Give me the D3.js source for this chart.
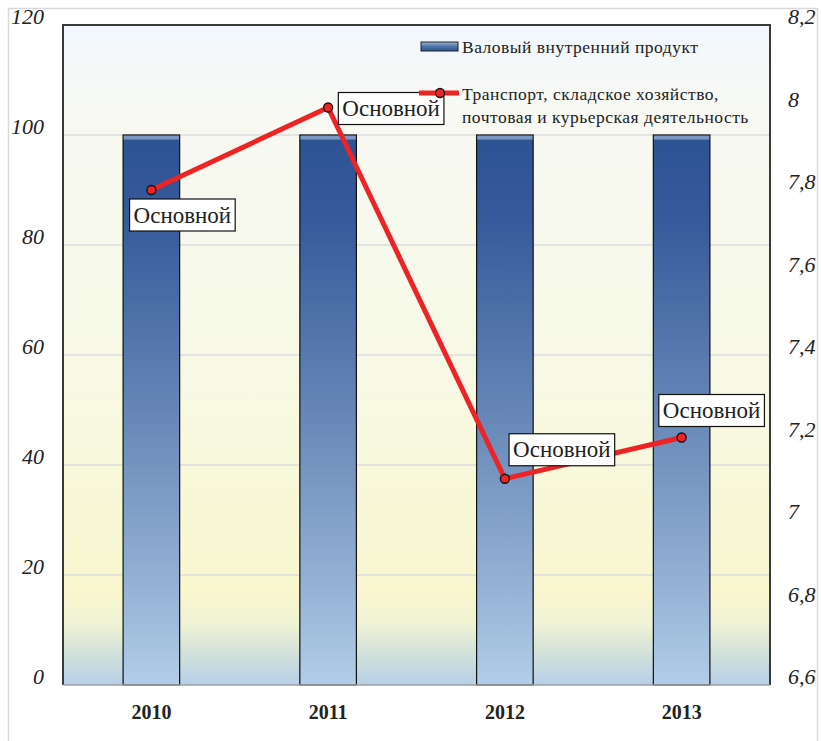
<!DOCTYPE html>
<html>
<head>
<meta charset="utf-8">
<script src="https://cdn.jsdelivr.net/npm/d3@7/dist/d3.min.js"></script>
<style>
  html, body { margin: 0; padding: 0; background: #fff; }
  svg { display: block; }
</style>
</head>
<body>
<svg id="chart" width="821" height="741"></svg>
<script>
// Data
const years = ["2010", "2011", "2012", "2013"];
const gdpValues = [100, 100, 100, 100];
const transportValues = [7.8, 8.0, 7.1, 7.2];
const pointLabels = ["Основной", "Основной", "Основной", "Основной"];
const leftTicks = [0, 20, 40, 60, 80, 100, 120];
const rightTicks = [6.6, 6.8, 7.0, 7.2, 7.4, 7.6, 7.8, 8.0, 8.2];
const seriesNames = ["Валовый внутренний продукт", ["Транспорт, складское хозяйство,", "почтовая и курьерская деятельность"]];

const FONT = '"Liberation Serif"';
const svg = d3.select("#chart");
const plot = { left: 63, top: 25, right: 770, bottom: 685 };

// Outer frame
svg.append("rect").attr("x", 8.5).attr("y", 8.5).attr("width", 809).attr("height", 740)
  .attr("fill", "#fff").attr("stroke", "#d9d9d9").attr("stroke-width", 1.5);

const defs = svg.append("defs");
const bg = defs.append("linearGradient").attr("id", "bgGrad").attr("x1", 0).attr("y1", 0).attr("x2", 0).attr("y2", 1);
[[0, "#f1f7fd"], [0.12, "#f7f9f3"], [0.45, "#f7f9e8"], [0.72, "#f8f8d8"], [0.86, "#faf7cf"], [0.91, "#eef2d5"], [0.95, "#d4e2da"], [1, "#b4cfe7"]]
  .forEach(([o, c]) => bg.append("stop").attr("offset", o).attr("stop-color", c));

const barGrad = defs.append("linearGradient").attr("id", "barGrad").attr("gradientUnits", "userSpaceOnUse")
  .attr("x1", 0).attr("y1", plot.top + 110).attr("x2", 0).attr("y2", plot.bottom);
[[0, "#2d5393"], [0.15, "#36599a"], [0.5, "#6586b6"], [0.8, "#92afd3"], [1, "#b1cde8"]]
  .forEach(([o, c]) => barGrad.append("stop").attr("offset", o).attr("stop-color", c));

const legGrad = defs.append("linearGradient").attr("id", "legGrad").attr("x1", 0).attr("y1", 0).attr("x2", 0).attr("y2", 1);
[[0, "#9db6d8"], [0.5, "#4d73a8"], [1, "#2d5393"]]
  .forEach(([o, c]) => legGrad.append("stop").attr("offset", o).attr("stop-color", c));

// Scales
const x = d3.scaleBand().domain(years).range([plot.left, plot.right]).paddingInner(0.68).paddingOuter(0.34);
const yL = d3.scaleLinear().domain([0, 120]).range([plot.bottom, plot.top]);
const yR = d3.scaleLinear().domain([6.6, 8.2]).range([plot.bottom, plot.top]);

// Plot background
svg.append("rect").attr("x", plot.left).attr("y", plot.top)
  .attr("width", plot.right - plot.left).attr("height", plot.bottom - plot.top)
  .attr("fill", "url(#bgGrad)");

// Gridlines
svg.append("g").selectAll("line").data(leftTicks.filter(t => t > 0 && t < 120)).join("line")
  .attr("x1", plot.left).attr("x2", plot.right)
  .attr("y1", d => yL(d)).attr("y2", d => yL(d))
  .attr("stroke", "#dcdcdc").attr("stroke-width", 1.5);

// Bars
const barG = svg.append("g");
barG.selectAll("rect.bar").data(years).join("rect").attr("class", "bar")
  .attr("x", d => x(d)).attr("width", x.bandwidth())
  .attr("y", (d, i) => yL(gdpValues[i])).attr("height", (d, i) => yL(0) - yL(gdpValues[i]))
  .attr("fill", "url(#barGrad)").attr("stroke", "#111").attr("stroke-width", 1.2);
// Top highlight on each bar
barG.selectAll("rect.hl").data(years).join("rect").attr("class", "hl")
  .attr("x", d => x(d) + 0.6).attr("width", x.bandwidth() - 1.2)
  .attr("y", (d, i) => yL(gdpValues[i]) + 0.6).attr("height", 4)
  .attr("fill", "#8ea9cf").attr("opacity", 0.8);

// Plot border
svg.append("path")
  .attr("d", `M${plot.left},${plot.bottom}V${plot.top}H${plot.right}V${plot.bottom}`)
  .attr("fill", "none").attr("stroke", "#3a3a3a").attr("stroke-width", 2);
svg.append("line").attr("x1", plot.left).attr("x2", plot.right)
  .attr("y1", plot.bottom).attr("y2", plot.bottom)
  .attr("stroke", "#a0a0a0").attr("stroke-width", 1.5);

// Axes
const leftAxis = d3.axisLeft(yL).tickValues(leftTicks).tickSize(0).tickPadding(19)
  .tickFormat(d => String(d));
const gL = svg.append("g").attr("transform", `translate(${plot.left},0)`).call(leftAxis);
gL.select(".domain").remove();
gL.selectAll("text").style("font-family", FONT).style("font-style", "italic")
  .style("font-size", "22px").attr("fill", "#222").attr("dy", "-0.05em");

const rightAxis = d3.axisRight(yR).tickValues(rightTicks).tickSize(0).tickPadding(18)
  .tickFormat(d => (Math.round(d * 10) / 10).toString().replace(".", ","));
const gR = svg.append("g").attr("transform", `translate(${plot.right},0)`).call(rightAxis);
gR.select(".domain").remove();
gR.selectAll("text").style("font-family", FONT).style("font-style", "italic")
  .style("font-size", "22px").attr("fill", "#222").attr("dy", "-0.05em");

const bottomAxis = d3.axisBottom(x).tickSize(0).tickPadding(20);
const gB = svg.append("g").attr("transform", `translate(0,${plot.bottom})`).call(bottomAxis);
gB.select(".domain").remove();
gB.selectAll("text").style("font-family", FONT).style("font-weight", "bold")
  .style("font-size", "20px").attr("fill", "#222");

// Line series
const cx = d => x(d) + x.bandwidth() / 2;
const line = d3.line().x((d, i) => cx(years[i])).y(d => yR(d));
svg.append("path").datum(transportValues).attr("d", line)
  .attr("fill", "none").attr("stroke", "#ee2326").attr("stroke-width", 5).attr("stroke-linejoin", "round");
svg.append("g").selectAll("circle").data(transportValues).join("circle")
  .attr("cx", (d, i) => cx(years[i])).attr("cy", d => yR(d)).attr("r", 4.5)
  .attr("fill", "#ee2326").attr("stroke", "#111").attr("stroke-width", 1.3);

// Data labels (offsets relative to each point)
const labelOffsets = [[31, 25], [63, 1], [57, -29], [30, -27]];
const lblG = svg.append("g");
pointLabels.forEach((t, i) => {
  const px = cx(years[i]) + labelOffsets[i][0];
  const py = yR(transportValues[i]) + labelOffsets[i][1];
  const g = lblG.append("g");
  const txt = g.append("text").attr("x", px).attr("y", py + 7.5).attr("text-anchor", "middle")
    .style("font-family", FONT).style("font-size", "23px").attr("fill", "#222").text(t);
  const bb = txt.node().getBBox();
  g.insert("rect", "text").attr("x", bb.x - 4).attr("y", py - 16)
    .attr("width", bb.width + 8).attr("height", 32)
    .attr("fill", "#fff").attr("stroke", "#111").attr("stroke-width", 1.2);
});

// Legend
const leg = svg.append("g");
leg.append("rect").attr("x", 421).attr("y", 42).attr("width", 37).attr("height", 9)
  .attr("fill", "url(#legGrad)").attr("stroke", "#222").attr("stroke-width", 1);
leg.append("text").attr("x", 462).attr("y", 52.5).style("font-family", FONT).style("font-size", "17.5px")
  .style("letter-spacing", "0.5px").attr("fill", "#222").text(seriesNames[0]);
leg.append("line").attr("x1", 419).attr("x2", 459).attr("y1", 93).attr("y2", 93)
  .attr("stroke", "#ee2326").attr("stroke-width", 5);
leg.append("circle").attr("cx", 440).attr("cy", 93).attr("r", 4.5)
  .attr("fill", "#ee2326").attr("stroke", "#111").attr("stroke-width", 1.3);
seriesNames[1].forEach((s, i) => {
  leg.append("text").attr("x", 462).attr("y", 99.5 + i * 23).style("font-family", FONT).style("font-size", "17.5px")
    .style("letter-spacing", "0.5px").attr("fill", "#222").text(s);
});
</script>
</body>
</html>
